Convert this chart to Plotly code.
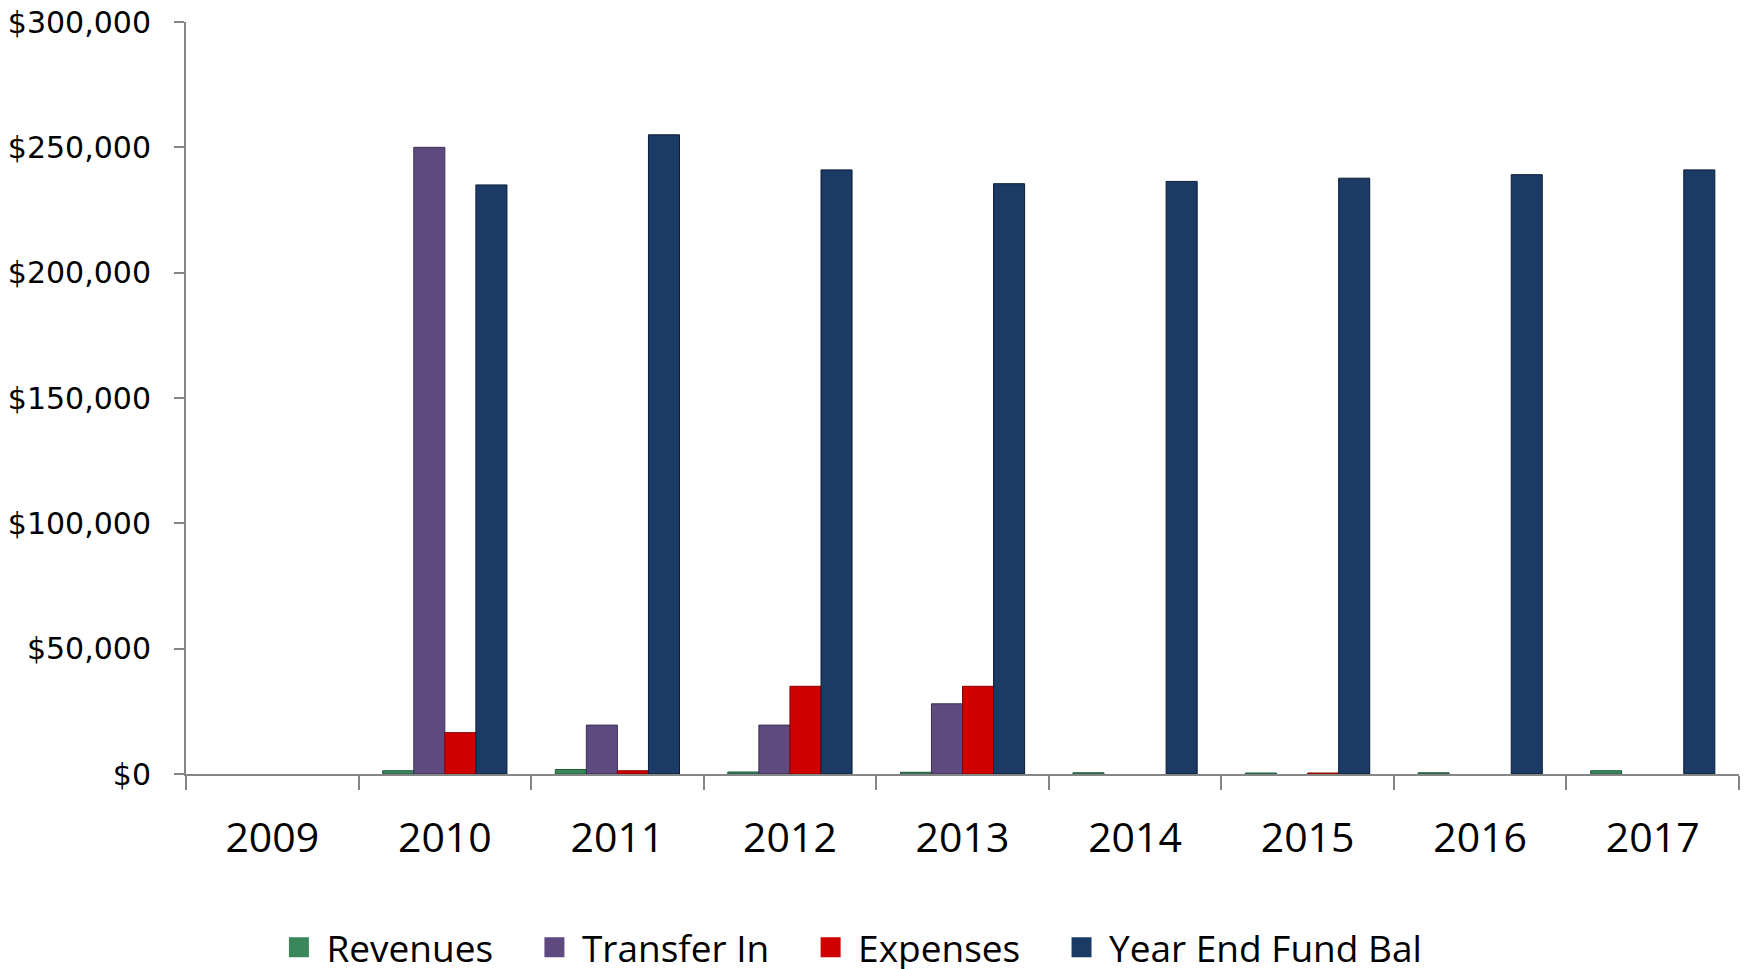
"""
Fund balance history by year, grouped bars.
"""
import plotly.graph_objects as go

years = ['2009', '2010', '2011', '2012', '2013', '2014', '2015', '2016', '2017']

# None = no bar drawn for that year
revenues = [None, 1300, 1800, 800, 700, 500, 400, 500, 1300]
transfer_in = [None, 250000, 19500, 19500, 28000, None, None, None, None]
expenses = [None, 16500, 1300, 35000, 35000, None, 400, None, None]
year_end_fund_bal = [None, 235000, 255000, 241000, 235500, 236400, 237700, 239100, 241000]

y_ticks = [0, 50000, 100000, 150000, 200000, 250000, 300000]
y_tick_labels = ['$0', '$50,000', '$100,000', '$150,000', '$200,000', '$250,000', '$300,000']

series = [
    ('Revenues', revenues, '#3b875c', '#1f5a3a'),
    ('Transfer In', transfer_in, '#5e4a7e', '#3b2d52'),
    ('Expenses', expenses, '#d10000', '#8a0000'),
    ('Year End Fund Bal', year_end_fund_bal, '#1b3a65', '#0c1e36'),
]

PAD = '\u00a0' * 3  # extra room between legend entries

fig = go.Figure()

for name, values, color, edge in series:
    fig.add_trace(go.Bar(
        x=years,
        y=values,
        name=name,
        legendgroup=name,
        showlegend=False,
        marker=dict(color=color, line=dict(color=edge, width=1)),
    ))

# legend-only entries so the swatches can be bigger squares
for i, (name, values, color, edge) in enumerate(series):
    fig.add_trace(go.Scatter(
        x=[None],
        y=[None],
        mode='markers',
        name=name + (PAD if i < len(series) - 1 else ''),
        legendgroup=name,
        marker=dict(symbol='square', size=16, color=color, line=dict(color=color, width=4)),
    ))

fig.update_layout(
    width=1746,
    height=969,
    barmode='group',
    bargap=0.28,
    bargroupgap=0,
    plot_bgcolor='white',
    paper_bgcolor='white',
    margin=dict(l=186, r=7, t=22, b=195, autoexpand=False),
    font=dict(family='Open Sans, Liberation Sans, sans-serif', color='black'),
    legend=dict(
        orientation='h',
        x=0.055,
        xanchor='left',
        y=-0.231,
        yanchor='middle',
        font=dict(size=37, family='Open Sans, sans-serif'),
        itemwidth=45,
        tracegroupgap=0,
    ),
)

fig.update_xaxes(
    type='category',
    showline=True,
    linecolor='#868686',
    linewidth=2,
    ticks='outside',
    tickson='boundaries',
    ticklen=14,
    tickwidth=2,
    tickcolor='#868686',
    tickfont=dict(size=41, family='Open Sans, sans-serif'),
    ticklabelstandoff=27,
    showgrid=False,
    automargin=False,
)

fig.update_yaxes(
    range=[0, 300000],
    tickvals=y_ticks,
    ticktext=y_tick_labels,
    showline=True,
    linecolor='#868686',
    linewidth=2,
    ticks='outside',
    ticklen=10,
    tickwidth=2,
    tickcolor='#868686',
    tickfont=dict(size=30, family='DejaVu Sans, sans-serif'),
    ticklabelstandoff=17,
    showgrid=False,
    zeroline=False,
    automargin=False,
)

# page body has an 8px default margin; drop it so the figure fills the window
fig.write_html(
    "out.html",
    config={'displayModeBar': False},
    post_script="document.body.style.margin='0px';",
)
